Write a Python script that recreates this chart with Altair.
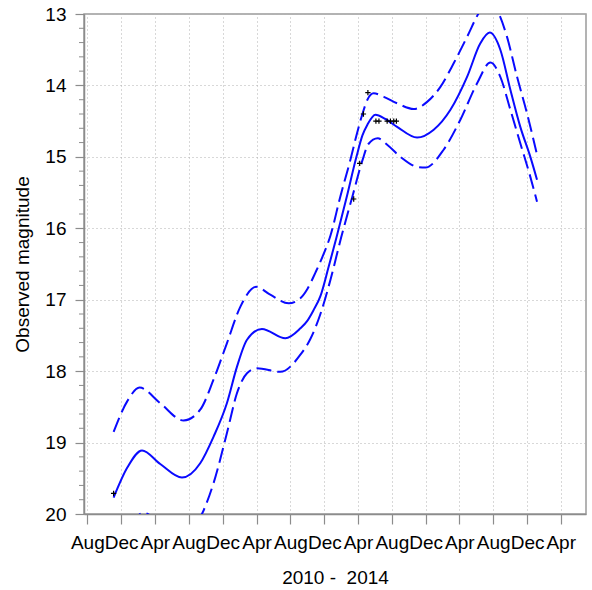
import altair as alt
import pandas as pd

# ---- values (dates as decimal years) ----
obs_year = [2010.840, 2013.205, 2013.264, 2013.301, 2013.345, 2013.424,
            2013.454, 2013.535, 2013.567, 2013.600, 2013.626]
obs_mag = [19.71, 15.59, 15.09, 14.40, 14.10, 14.50,
           14.50, 14.50, 14.50, 14.50, 14.50]

fit_year = [2010.840, 2010.975, 2011.120, 2011.300, 2011.514, 2011.694, 2011.825,
            2011.957, 2012.056, 2012.155, 2012.302, 2012.532, 2012.680, 2012.746,
            2012.808, 2012.877, 2012.956, 2013.035, 2013.133, 2013.232, 2013.291,
            2013.340, 2013.419, 2013.518, 2013.633, 2013.830, 2013.994, 2014.159,
            2014.323, 2014.454, 2014.546, 2014.651, 2014.750, 2014.848, 2014.947,
            2015.013]
fit_mag = [19.77, 19.35, 19.11, 19.30, 19.49, 19.29, 18.92,
           18.45, 17.94, 17.56, 17.41, 17.54, 17.40, 17.30,
           17.15, 16.95, 16.55, 16.13, 15.58, 15.00, 14.70,
           14.55, 14.41, 14.47, 14.58, 14.73, 14.62, 14.34,
           13.88, 13.41, 13.26, 13.50, 14.06, 14.58, 15.00,
           15.32]

bright_year = [2010.840, 2010.975, 2011.096, 2011.300, 2011.530, 2011.694, 2011.825,
               2011.957, 2012.089, 2012.246, 2012.384, 2012.565, 2012.680, 2012.749,
               2012.828, 2012.897, 2012.976, 2013.074, 2013.180, 2013.232, 2013.291,
               2013.340, 2013.402, 2013.501, 2013.633, 2013.797, 2013.929, 2014.060,
               2014.191, 2014.323, 2014.437, 2014.533, 2014.635, 2014.717, 2014.816,
               2014.914, 2015.013]
bright_mag = [18.85, 18.42, 18.23, 18.45, 18.69, 18.54, 18.12,
              17.61, 17.10, 16.82, 16.93, 17.05, 16.98, 16.85,
              16.62, 16.40, 16.10, 15.55, 15.00, 14.70, 14.40,
              14.20, 14.11, 14.16, 14.25, 14.33, 14.23, 14.02,
              13.69, 13.32, 12.99, 12.80, 12.99, 13.32, 13.88,
              14.39, 14.97]

faint_year = [2010.840, 2010.975, 2011.135, 2011.300, 2011.514, 2011.711, 2011.825,
              2011.957, 2012.056, 2012.155, 2012.253, 2012.483, 2012.680, 2012.778,
              2012.877, 2012.976, 2013.081, 2013.193, 2013.291, 2013.350, 2013.442,
              2013.535, 2013.666, 2013.830, 2013.912, 2014.092, 2014.257, 2014.422,
              2014.553, 2014.651, 2014.750, 2014.848, 2014.947, 2015.013]
faint_mag = [20.69, 20.25, 19.985, 20.12, 20.29, 20.00, 19.57,
             18.87, 18.31, 18.03, 17.96, 18.01, 17.77, 17.55,
             17.20, 16.72, 16.13, 15.55, 15.05, 14.82, 14.74,
             14.83, 15.00, 15.14, 15.15, 14.90, 14.48, 13.97,
             13.68, 13.88, 14.34, 14.81, 15.28, 15.63]

tick_months = [(2010, 8), (2010, 12), (2011, 4), (2011, 8), (2011, 12), (2012, 4),
               (2012, 8), (2012, 12), (2013, 4), (2013, 8), (2013, 12), (2014, 4),
               (2014, 8), (2014, 12), (2015, 4)]
y_ticks = [13, 14, 15, 16, 17, 18, 19, 20]
y_minor = [13.2, 13.4, 13.6, 13.8, 14.2, 14.4, 14.6, 14.8, 15.2, 15.4, 15.6, 15.8,
           16.2, 16.4, 16.6, 16.8, 17.2, 17.4, 17.6, 17.8, 18.2, 18.4, 18.6, 18.8,
           19.2, 19.4, 19.6, 19.8]


def to_date(y):
    yr = int(y)
    start = pd.Timestamp(yr, 1, 1)
    end = pd.Timestamp(yr + 1, 1, 1)
    return start + (end - start) * (y - yr)


def frame(years, mags):
    return pd.DataFrame({"date": [to_date(v) for v in years], "mag": mags})


FONT = "Liberation Sans"
BLUE = "#0a0aff"

x_enc = alt.X(
    "date:T",
    scale=alt.Scale(domain=[alt.DateTime(year=2010, month=7, date=20),
                            alt.DateTime(year=2015, month=7, date=1)]),
    axis=alt.Axis(
        values=[alt.DateTime(year=y, month=m, date=1) for y, m in tick_months],
        format="%b", labelOverlap=False, labelFlush=False, labelBound=False,
        title="2010 -\u00a0 2014", tickSize=10, labelPadding=9, titlePadding=16,
    ),
)
y_scale = alt.Scale(domain=[13, 20], reverse=True, nice=False, zero=False)
y_enc = alt.Y(
    "mag:Q", scale=y_scale,
    axis=alt.Axis(values=y_ticks, title="Observed magnitude", tickSize=9,
                  labelPadding=9, titlePadding=12, labelOverlap=False),
)

minor = alt.Chart(pd.DataFrame({"mag": y_minor})).mark_rule(
    color="#8c8c8c", strokeWidth=1
).encode(y=y_enc, x=alt.value(-5), x2=alt.value(0))

fit = alt.Chart(frame(fit_year, fit_mag)).mark_line(
    color=BLUE, strokeWidth=2, interpolate="monotone", clip=True
).encode(x=x_enc, y=y_enc)

bright = alt.Chart(frame(bright_year, bright_mag)).mark_line(
    color=BLUE, strokeWidth=2, strokeDash=[15, 6], interpolate="monotone", clip=True
).encode(x=x_enc, y=y_enc)

faint = alt.Chart(frame(faint_year, faint_mag)).mark_line(
    color=BLUE, strokeWidth=2, strokeDash=[15, 6], interpolate="monotone", clip=True
).encode(x=x_enc, y=y_enc)

obs = alt.Chart(frame(obs_year, obs_mag)).mark_point(
    shape="M-1,0L1,0M0,-1L0,1", filled=False, color="black",
    strokeWidth=1.2, size=28, opacity=1
).encode(x=x_enc, y=y_enc)

chart = alt.layer(fit, bright, faint, obs, minor).properties(
    width=502, height=500,
    padding={"left": 84, "top": 14, "right": 6, "bottom": 76},
    autosize=alt.AutoSizeParams(type="none"),
).configure_view(
    stroke="#9a9a9a", strokeWidth=1.5
).configure_axis(
    labelFont=FONT, titleFont=FONT, labelFontSize=19, titleFontSize=19,
    labelColor="black", titleColor="black", titleFontWeight="normal",
    domainColor="#8c8c8c", domainWidth=1.5, tickColor="#8c8c8c", tickWidth=1.2,
    gridColor="#b0b0b0", gridDash=[1, 3], gridWidth=1,
)

chart.save("out.html", embed_options={"renderer": "svg", "actions": False})
